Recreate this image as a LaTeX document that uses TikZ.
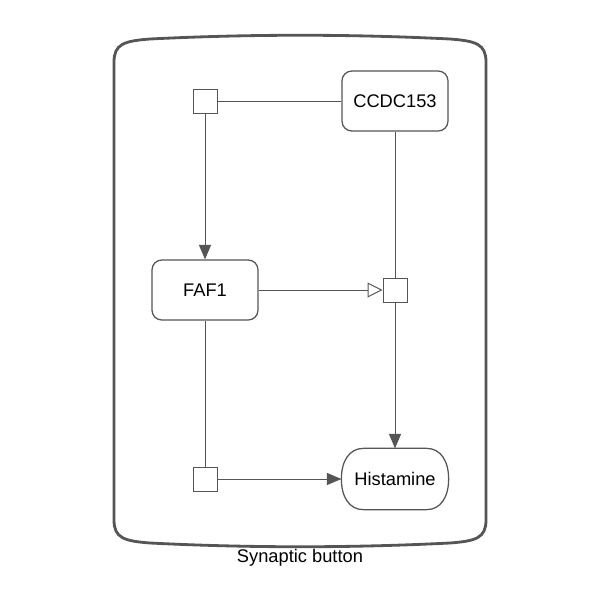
\documentclass[tikz,border=0pt]{standalone}
\usepackage{fontspec}
\setmainfont{Liberation Sans}
\usetikzlibrary{arrows.meta,calc}
\definecolor{edgegray}{RGB}{85,85,85}

\tikzset{
  entity/.style={draw=edgegray,line width=0.9pt,rounded corners=7pt,
    minimum width=2.65cm,minimum height=1.5cm,inner sep=0pt,
    font=\fontsize{13}{15}\selectfont},
  chem/.style={entity,draw=none},
  proc/.style={draw=edgegray,line width=0.7pt,minimum size=0.6cm,inner sep=0pt},
  link/.style={draw=edgegray,line width=0.7pt},
  conv/.style={link,-{Triangle[length=0.36cm,width=0.3cm]},edgegray},
  stim/.style={link,-{Triangle[open,length=0.37cm,width=0.37cm,fill=white]}}
}

\begin{document}
\begin{tikzpicture}[x=0.025cm,y=-0.025cm]
  \useasboundingbox (0,0) rectangle (600,600);
  \draw[edgegray,line width=2pt]
    (114,520) -- (114,62) .. controls (114,44) and (124,41) .. (150,39)
    .. controls (250,34) and (350,34) .. (450,39)
    .. controls (476,41) and (486,44) .. (486,62) -- (486,520)
    .. controls (486,538) and (476,541) .. (450,543)
    .. controls (350,548) and (250,548) .. (150,543)
    .. controls (124,541) and (114,538) .. (114,520) -- cycle;
  \node[font=\fontsize{13}{15}\selectfont] (cname) at (300,558) {Synaptic button};

  \node[entity] (ccdc) at (395,101) {CCDC153};
  \node[entity] (faf) at (205,290) {FAF1};
  \node[chem] (hist) at (395,479) {Histamine};
  \draw[edgegray,line width=0.9pt]
    ($(hist.north west)+(22,0)$) -- ($(hist.north east)+(-22,0)$)
    .. controls +(14,0) and +(0,-18) .. (hist.east)
    .. controls +(0,18) and +(14,0) .. ($(hist.south east)+(-22,0)$)
    -- ($(hist.south west)+(22,0)$)
    .. controls +(-14,0) and +(0,18) .. (hist.west)
    .. controls +(0,-18) and +(-14,0) .. cycle;
  \node[proc] (p1) at (205,101) {};
  \node[proc] (p2) at (395,290) {};
  \node[proc] (p3) at (205,479) {};

  \draw[link] (ccdc.west) -- (p1.east);
  \draw[conv] (p1.south) -- (faf.north);
  \draw[stim] (faf.east) -- (p2.west);
  \draw[link] (ccdc.south) -- (p2.north);
  \draw[conv] (p2.south) -- (hist.north);
  \draw[link] (faf.south) -- (p3.north);
  \draw[conv] (p3.east) -- (hist.west);
\end{tikzpicture}
\end{document}
